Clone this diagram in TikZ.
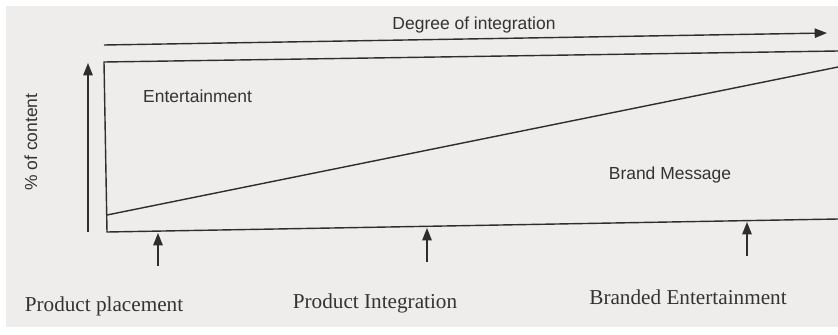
\documentclass[tikz,border=0pt]{standalone}
\usepackage{fontspec}
\setmainfont{Liberation Serif}
\setsansfont{Liberation Sans}
\usepackage{tikz}
\usetikzlibrary{arrows.meta,positioning,calc}
\definecolor{Paper}{HTML}{EFEDEB}
\definecolor{Ink}{HTML}{2E2E2E}
\definecolor{Type}{HTML}{333333}

\begin{document}
\begin{tikzpicture}[x=0.03cm,y=-0.03cm,
    axis/.style={-{Triangle[length=10.5pt,width=8pt]},Ink,line width=1.2pt},
    edge/.style={Ink,line width=1.2pt},
    sanslabel/.style={font=\sffamily\fontsize{14.9}{18}\selectfont,text=Type,inner sep=0pt},
    seriflabel/.style={font=\rmfamily\fontsize{18.1}{22}\selectfont,text=Type,inner sep=0pt,anchor=base}]
        \useasboundingbox (0,0) rectangle (838,334);
        \fill[white] (0,0) rectangle (838,334);
        \fill[Paper] (6,6) rectangle (838,327);
        \coordinate (degstart) at (104,45);
        \coordinate (degend) at (827,33);
        \coordinate (boxtl) at (104,62);
        \coordinate (boxtr) at (838,51);
        \coordinate (boxbl) at (107,232);
        \coordinate (boxbr) at (838,219);
        \coordinate (splitl) at (107,215);
        \coordinate (splitr) at (838,67);
        \coordinate (ybase) at (88,232);
        \coordinate (ytip) at (88,63);
        \coordinate (placefoot) at (158,266);
        \coordinate (placetip) at (158,233);
        \coordinate (integfoot) at (427,262);
        \coordinate (integtip) at (427,228);
        \coordinate (brandfoot) at (747,256);
        \coordinate (brandtip) at (747,222);
        \draw[axis] (degstart) -- (degend);
        \draw[axis] (ybase) -- (ytip);
        \draw[edge] (boxtr) -- (boxtl) -- (boxbl) -- (boxbr);
        \draw[edge] (splitl) -- (splitr);
        \draw[axis] (placefoot) -- (placetip);
        \draw[axis] (integfoot) -- (integtip);
        \draw[axis] (brandfoot) -- (brandtip);
        \node[sanslabel,anchor=base] (degree) at (474,29.5) {Degree of integration};
        \node[sanslabel,anchor=base west] (ent) at (143,102) {Entertainment};
        \node[sanslabel,anchor=base] (brandmsg) at (670,179) {Brand Message};
        \node[sanslabel,anchor=base,rotate=90] (share) at (37,142) {\% of content};
        \node[seriflabel] (placement) at (104,311) {Product placement};
        \node[seriflabel] (integration) at (375,308) {Product Integration};
        \node[seriflabel] (branded) at (688,304) {Branded Entertainment};
      \end{tikzpicture}
\end{document}
